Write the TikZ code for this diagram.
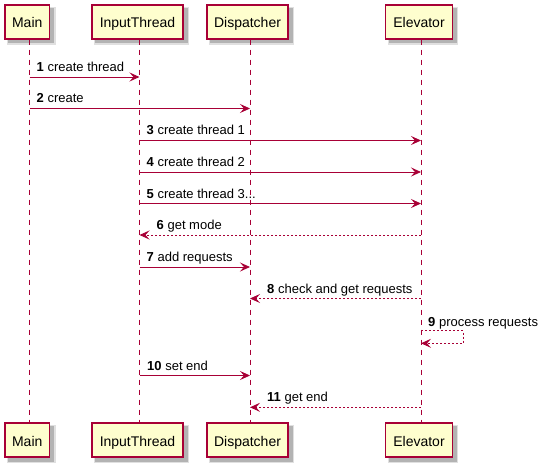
\documentclass[tikz,border=0pt]{standalone}
\usepackage{fontspec}
\setmainfont{Liberation Sans}
\usetikzlibrary{arrows.meta}
\definecolor{umlred}{HTML}{A80036}
\definecolor{umlfill}{HTML}{FEFECE}
\tikzset{
  x=1pt, y=-1pt,
  part/.style={rectangle, draw=umlred, fill=umlfill, line width=1.2pt, minimum height=34pt, inner sep=0pt, text height=12pt, text depth=0pt, font=\fontsize{14}{16}\selectfont, text=black},
  lifeline/.style={draw=umlred, line width=0.9pt, dash pattern=on 5pt off 5pt},
  msg/.style={draw=umlred, line width=0.9pt, -{Stealth[length=10pt,width=9pt,inset=4pt]}},
  ret/.style={msg, dash pattern=on 2pt off 2pt},
  lbl/.style={anchor=base west, inner sep=0pt, font=\fontsize{13}{15}\selectfont},
}
\newcommand{\shadowbox}[4]{%
  \fill[black, opacity=0.12] (#1+2,#3+2) rectangle (#2+6,#4+6);
  \fill[black, opacity=0.2] (#1+3,#3+3) rectangle (#2+4.5,#4+4.5);
}
\begin{document}
\begin{tikzpicture}
\useasboundingbox (0,0) rectangle (545,470);
% lifeline x positions
\coordinate (mainX) at (29.5,0);
\coordinate (inX) at (139.5,0);
\coordinate (dispX) at (250,0);
\coordinate (elevX) at (421,0);
% shadows
\shadowbox{5}{49.5}{5}{39}
\shadowbox{92}{183}{5}{39}
\shadowbox{207}{288}{5}{39}
\shadowbox{385.7}{452.3}{5}{39}
\shadowbox{5}{49.5}{423}{457}
\shadowbox{92}{183}{423}{457}
\shadowbox{207}{288}{423}{457}
\shadowbox{385.7}{452.3}{423}{457}
% participants
\node[part, minimum width=44.5pt] (mainT) at (27.25,22) {Main};
\node[part, minimum width=91pt] (inT) at (137.5,22) {InputThread};
\node[part, minimum width=81pt] (dispT) at (247.5,22) {Dispatcher};
\node[part, minimum width=66.6pt] (elevT) at (419,22) {Elevator};
\node[part, minimum width=44.5pt] (mainB) at (27.25,440) {Main};
\node[part, minimum width=91pt] (inB) at (137.5,440) {InputThread};
\node[part, minimum width=81pt] (dispB) at (247.5,440) {Dispatcher};
\node[part, minimum width=66.6pt] (elevB) at (419,440) {Elevator};
% lifelines
\draw[lifeline] (mainT.south -| mainX) -- (mainB.north -| mainX);
\draw[lifeline] (inT.south -| inX) -- (inB.north -| inX);
\draw[lifeline] (dispT.south -| dispX) -- (dispB.north -| dispX);
\draw[lifeline] (elevT.south -| elevX) -- (elevB.north -| elevX);
% messages
\draw[msg] (mainX |- 0,77) -- (inX |- 0,77);
\node[lbl] (l1) at (36.5,71.5) {\textbf{1} create thread};
\draw[msg] (mainX |- 0,108.5) -- (dispX |- 0,108.5);
\node[lbl] (l2) at (36.5,103) {\textbf{2} create};
\draw[msg] (inX |- 0,140.5) -- (elevX |- 0,140.5);
\node[lbl] (l3) at (146.5,135) {\textbf{3} create thread 1};
\draw[msg] (inX |- 0,172) -- (elevX |- 0,172);
\node[lbl] (l4) at (146.5,166.5) {\textbf{4} create thread 2};
\draw[msg] (inX |- 0,203.5) -- (elevX |- 0,203.5);
\node[lbl] (l5) at (146.5,198) {\textbf{5} create thread 3...};
\draw[ret] (elevX |- 0,235) -- (inX |- 0,235);
\node[lbl] (l6) at (156.5,229.5) {\textbf{6} get mode};
\draw[msg] (inX |- 0,267) -- (dispX |- 0,267);
\node[lbl] (l7) at (146.5,261.5) {\textbf{7} add requests};
\draw[ret] (elevX |- 0,298.5) -- (dispX |- 0,298.5);
\node[lbl] (l8) at (267,293) {\textbf{8} check and get requests};
\coordinate (s1) at (463,330.7);
\coordinate (s2) at (463,343.3);
\draw[ret] (elevX |- s1) -- (s1) -- (s2) -- (elevX |- s2);
\node[lbl] (l9) at (428,326) {\textbf{9} process requests};
\draw[msg] (inX |- 0,375.5) -- (dispX |- 0,375.5);
\node[lbl] (l10) at (147,370) {\textbf{10} set end};
\draw[ret] (elevX |- 0,407.3) -- (dispX |- 0,407.3);
\node[lbl] (l11) at (267,401.8) {\textbf{11} get end};
\end{tikzpicture}
\end{document}
